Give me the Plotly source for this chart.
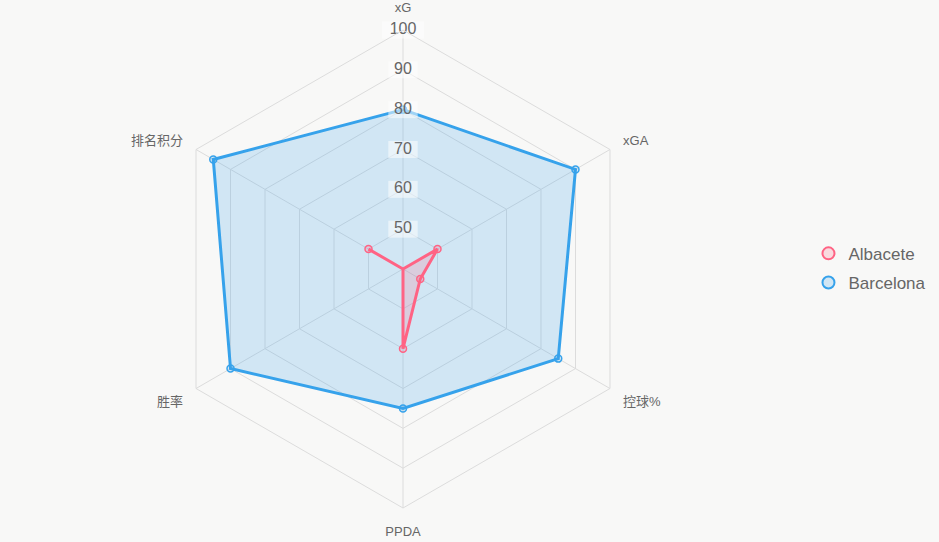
import plotly.graph_objects as go

categories = ["xG", "xGA", "控球%", "PPDA", "胜率", "排名积分"]
albacete = [40, 50, 45, 60, 40, 50]
barcelona = [80, 90, 85, 75, 90, 95]
tick_vals = [50, 60, 70, 80, 90, 100]
tick_text = [str(v) for v in tick_vals]

FONT = "Liberation Sans, Arial, Noto Sans CJK SC, sans-serif"
R_MAX = tick_vals[-1]

fig = go.Figure()

series = [
    ("Albacete", albacete, "rgb(255,99,132)", "rgba(255,99,132,0.2)"),
    ("Barcelona", barcelona, "rgb(54,162,235)", "rgba(54,162,235,0.2)"),
]

# draw Barcelona first so Albacete sits on top
for name, vals, line_c, fill_c in reversed(series):
    fig.add_trace(go.Scatterpolar(
        r=vals + [vals[0]], theta=categories + [categories[0]],
        mode="lines+markers", fill="toself", fillcolor=fill_c,
        line=dict(color=line_c, width=3),
        marker=dict(size=7, color=fill_c, line=dict(color=line_c, width=1.5)),
        name=name, showlegend=False, hoverinfo="r+theta",
    ))

# tick label backdrops + labels along the xG axis
fig.add_trace(go.Scatterpolar(
    r=tick_vals, theta=[categories[0]] * len(tick_vals), mode="markers",
    marker=dict(symbol="line-ew", size=[9 * len(t) + 3 for t in tick_text],
                line=dict(color="rgba(255,255,255,0.75)", width=17)),
    showlegend=False, hoverinfo="skip",
))
fig.add_trace(go.Scatterpolar(
    r=tick_vals, theta=[categories[0]] * len(tick_vals), mode="text",
    text=tick_text, textfont=dict(size=16, color="#666", family=FONT),
    textposition="middle center", showlegend=False, hoverinfo="skip",
))

# legend entries
for i, (name, vals, line_c, fill_c) in enumerate(series):
    fig.add_trace(go.Scatterpolar(
        r=[None], theta=[None], mode="markers", name=name, legendgroup=f"g{i}",
        marker=dict(size=14, color=fill_c, line=dict(color=line_c, width=1.5)),
    ))

fig.update_layout(
    width=939, height=542,
    margin=dict(l=0, r=0, t=0, b=0),
    paper_bgcolor="#f8f8f7", plot_bgcolor="#f8f8f7",
    font=dict(family=FONT, color="#666"),
    polar=dict(
        domain=dict(x=[164 / 939, 642 / 939], y=[34 / 542, 512 / 542]),
        bgcolor="#f8f8f7",
        gridshape="linear",
        radialaxis=dict(
            range=[40, R_MAX], tickvals=tick_vals, showticklabels=False,
            ticks="", showline=False, gridcolor="#dcdcdc", gridwidth=1, angle=90,
        ),
        angularaxis=dict(
            categoryorder="array", categoryarray=categories,
            rotation=90, direction="clockwise", showticklabels=True,
            gridcolor="#dcdcdc", linecolor="#dcdcdc", linewidth=1,
            ticks="outside", ticklen=12, tickcolor="rgba(0,0,0,0)",
            tickfont=dict(size=13, color="#666", family=FONT),
        ),
    ),
    legend=dict(
        x=0.861, y=0.505, xanchor="left", yanchor="middle",
        font=dict(size=17, color="#666", family=FONT),
        bgcolor="rgba(0,0,0,0)", itemsizing="constant", tracegroupgap=4,
    ),
)

fig.write_html("out.html")
